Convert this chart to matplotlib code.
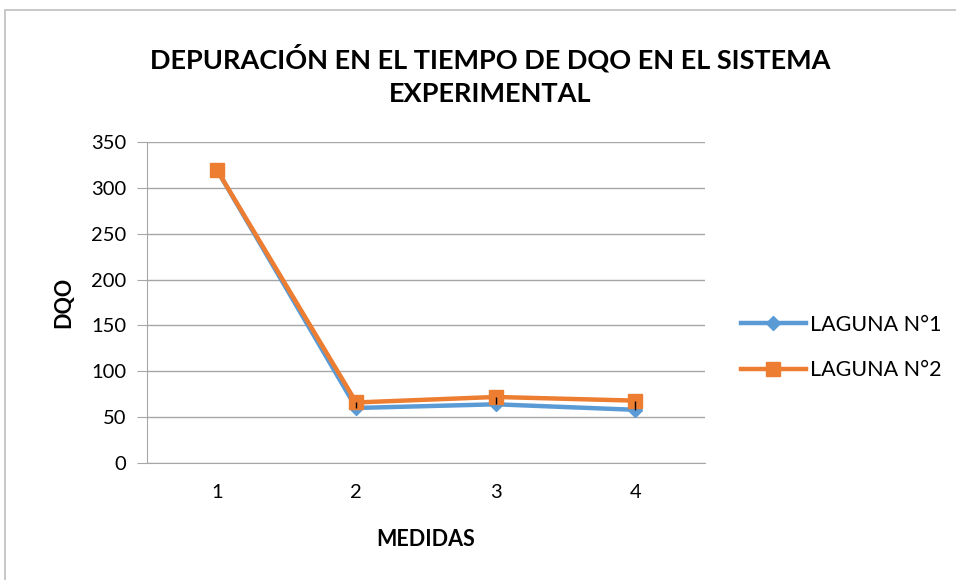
import matplotlib.pyplot as plt
import matplotlib.patches as patches

# --- datos ---
medidas = [1, 2, 3, 4]
laguna_1 = [320, 60, 64, 58]
laguna_2 = [320, 66, 72, 68]
series_names = ["LAGUNA N°1", "LAGUNA N°2"]
y_ticks = [0, 50, 100, 150, 200, 250, 300, 350]

plt.rcParams['font.family'] = ['Lato', 'DejaVu Sans']

fig = plt.figure(figsize=(9.56, 5.8), dpi=100, facecolor='white')

# marco del gráfico (estilo Excel)
fig.patches.append(patches.Rectangle((5 / 956, -0.05), 1.2, (570 / 580) + 0.05,
                                     transform=fig.transFigure, fill=False,
                                     edgecolor='#bfbfbf', linewidth=1.2))

ax = fig.add_axes([147 / 956, 117 / 580, 558 / 956, 321 / 580])

# líneas de máximo y mínimo entre las dos series
ax.vlines(medidas, laguna_1, laguna_2, color='black', linewidth=1.0, zorder=5)

ax.plot(medidas, laguna_1, color='#5B9BD5', linewidth=3.2, marker='D',
        markersize=7, label=series_names[0], zorder=3)
ax.plot(medidas, laguna_2, color='#ED7D31', linewidth=3.2, marker='s',
        markersize=10, label=series_names[1], zorder=4)

ax.set_xlim(0.5, 4.5)
ax.set_ylim(0, 350)
ax.set_xticks(medidas)
ax.set_yticks(y_ticks)
ax.tick_params(axis='x', length=0, pad=15, labelsize=14.5)
ax.tick_params(axis='y', length=7, color='#a6a6a6', pad=8, labelsize=14.5)
ax.grid(axis='y', color='#a6a6a6', linewidth=1)
ax.set_axisbelow(True)

for s in ['top', 'right']:
    ax.spines[s].set_visible(False)
ax.spines['left'].set_color('#a6a6a6')
ax.spines['bottom'].set_color('#a6a6a6')

ax.set_xlabel("MEDIDAS", fontsize=15.5, fontweight='bold', labelpad=20)
ax.set_ylabel("DQO", fontsize=15.5, fontweight='bold', labelpad=12)

fig.text(490 / 956, 1 - 75 / 580,
         "DEPURACIÓN EN EL TIEMPO DE DQO EN EL SISTEMA\nEXPERIMENTAL",
         ha='center', va='center', fontsize=19.5, fontweight='bold',
         linespacing=1.45)

ax.legend(loc='center left', bbox_to_anchor=(1.03, 0.36), frameon=False,
          fontsize=15.5, handlelength=3.0, handletextpad=0.2, labelspacing=1.2)

fig.savefig('out.png', dpi=100)
